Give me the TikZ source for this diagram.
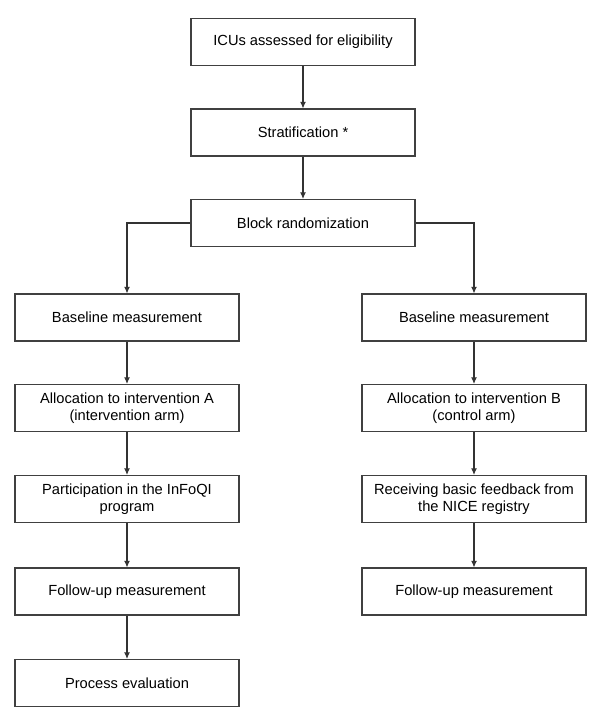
\documentclass[tikz,border=0pt]{standalone}
\usepackage{fontspec}
\setmainfont{Liberation Sans}
\usepackage{tikz}
\usetikzlibrary{arrows.meta}
\tikzset{box/.style={draw=black!75, line width=0.8pt, minimum width=224*0.75pt, minimum height=47*0.75pt, inner sep=2pt, align=center, font=\fontsize{11}{13}\selectfont}, arr/.style={draw=black!80, line width=0.8pt, -{Latex[length=5pt,width=4.5pt]}}}

\begin{document}
\begin{tikzpicture}[x=0.75pt, y=-0.75pt]
\useasboundingbox (0, 0) rectangle (600, 724);
 \node[box] (icu) at (303, 42) {ICUs assessed for eligibility};
 \node[box] (strat) at (303, 132.5) {Stratification *};
 \node[box] (block) at (303, 223) {Block randomization};
 % intervention arm
 \node[box] (baseA) at (127, 317.5) {Baseline measurement};
 \node[box] (allocA) at (127, 408) {Allocation to intervention A\\(intervention arm)};
 \node[box] (partA) at (127, 499) {Participation in the InFoQI\\program};
 \node[box] (followA) at (127, 591.5) {Follow-up measurement};
 \node[box] (proc) at (127, 683) {Process evaluation};
 % control arm
 \node[box] (baseB) at (474, 317.5) {Baseline measurement};
 \node[box] (allocB) at (474, 408) {Allocation to intervention B\\(control arm)};
 \node[box] (feedB) at (474, 499) {Receiving basic feedback from\\the NICE registry};
 \node[box] (followB) at (474, 591.5) {Follow-up measurement};
 \draw[arr] (icu) -- (strat);
 \draw[arr] (strat) -- (block);
 \draw[arr] (block.west) -| (baseA.north);
 \draw[arr] (block.east) -| (baseB.north);
 \draw[arr] (baseA) -- (allocA);
 \draw[arr] (allocA) -- (partA);
 \draw[arr] (partA) -- (followA);
 \draw[arr] (followA) -- (proc);
 \draw[arr] (baseB) -- (allocB);
 \draw[arr] (allocB) -- (feedB);
 \draw[arr] (feedB) -- (followB);
\end{tikzpicture}
\end{document}
